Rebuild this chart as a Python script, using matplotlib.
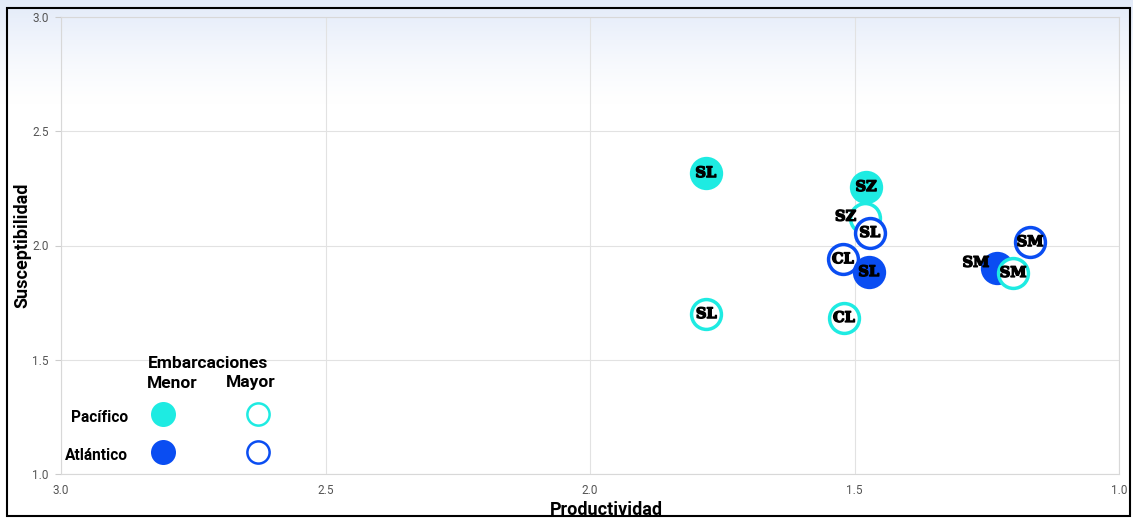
from matplotlib import pyplot as plt
from matplotlib.patches import Rectangle
import matplotlib.patheffects as pe
import numpy as np

# puntos: etiqueta, productividad, susceptibilidad, oceano, tipo de embarcacion
labels  = ['SZ', 'SZ', 'SL', 'CL', 'SL', 'SM', 'SM', 'SM', 'SL', 'SL', 'CL']
prod    = [1.48, 1.478, 1.471, 1.522, 1.473, 1.231, 1.20, 1.168, 1.781, 1.78, 1.52]
suscep  = [2.12, 2.256, 2.055, 1.94, 1.884, 1.90, 1.88, 2.015, 2.317, 1.70, 1.683]
oceano  = ['Pacífico', 'Pacífico', 'Atlántico', 'Atlántico', 'Atlántico', 'Atlántico',
           'Pacífico', 'Atlántico', 'Pacífico', 'Pacífico', 'Pacífico']
tipo    = ['Mayor', 'Menor', 'Mayor', 'Mayor', 'Menor', 'Menor',
           'Mayor', 'Mayor', 'Menor', 'Mayor', 'Mayor']

xticks = [3.0, 2.5, 2.0, 1.5, 1.0]
yticks = [1.0, 1.5, 2.0, 2.5, 3.0]

colors = {'Pacífico': '#1EEBE2', 'Atlántico': '#0A4DF2'}
# desplazamiento de etiquetas solapadas (en puntos)
label_shift = {0: (-14, 1), 5: (-15, 4)}

sans = ['Roboto', 'DejaVu Sans']

fig = plt.figure(figsize=(11.33, 5.18), dpi=100)

# fondo degradado arriba
bg = fig.add_axes([0, 0, 1, 1], zorder=-10)
grad = np.linspace(0, 1, 256).reshape(-1, 1)
top = np.array([0.89, 0.92, 0.975])
img = np.ones((256, 1, 3))
frac = np.clip((grad - 0.80) / 0.20, 0, 1) ** 1.3
img = img * (1 - frac[..., None]) + top * frac[..., None]
bg.imshow(img, aspect='auto', extent=[0, 1, 0, 1], origin='lower')
bg.set_axis_off()
fig.patches.append(Rectangle((7 / 1133, 2 / 518), 1123 / 1133, 508 / 518,
                             transform=fig.transFigure, fill=False,
                             edgecolor='black', linewidth=1.5, zorder=20))

ax = fig.add_axes([61 / 1133, 1 - 474 / 518, 1058 / 1133, 457 / 518])
ax.set_facecolor('none')
ax.set_xlim(3.0, 1.0)
ax.set_ylim(1.0, 3.0)
ax.set_xticks(xticks)
ax.set_yticks(yticks)
ax.set_xticklabels(['%.1f' % v for v in xticks], family=sans, fontsize=8.5, color='#555555')
ax.set_yticklabels(['%.1f' % v for v in yticks], family=sans, fontsize=8.5, color='#555555')
ax.tick_params(axis='x', length=0, pad=7)
ax.tick_params(axis='y', length=4, color='#cccccc', pad=5)
ax.grid(True, color='#e2e2e2', linewidth=0.8)
ax.set_axisbelow(True)
for s in ax.spines.values():
    s.set_color('#d8d8d8')

for i in range(len(labels)):
    c = colors[oceano[i]]
    if tipo[i] == 'Menor':
        ax.plot(prod[i], suscep[i], 'o', markersize=24, markerfacecolor=c,
                markeredgecolor=c, markeredgewidth=0, zorder=3 + i * 0.01)
    else:
        ax.plot(prod[i], suscep[i], 'o', markersize=21.5, markerfacecolor='white',
                markeredgecolor=c, markeredgewidth=2.5, zorder=3 + i * 0.01)

for i in range(len(labels)):
    dx, dy = label_shift.get(i, (0, 0))
    ax.annotate(labels[i], (prod[i], suscep[i]), xytext=(dx, dy), textcoords='offset points',
                ha='center', va='center', family='DejaVu Serif', fontweight='bold',
                fontsize=10.5, color='black', zorder=5,
                path_effects=[pe.withStroke(linewidth=1.0, foreground='black')])

# leyenda
lx = [163, 258]
ly = [414, 452]
for r, oc in enumerate(['Pacífico', 'Atlántico']):
    for k, tp in enumerate(['Menor', 'Mayor']):
        c = colors[oc]
        x = lx[k] / 1133
        y = 1 - ly[r] / 518
        if tp == 'Menor':
            fig.lines.append(plt.Line2D([x], [y], marker='o', markersize=18, markerfacecolor=c,
                                        markeredgewidth=0, transform=fig.transFigure, zorder=6))
        else:
            fig.lines.append(plt.Line2D([x], [y], marker='o', markersize=16, markerfacecolor='white',
                                        markeredgecolor=c, markeredgewidth=1.8,
                                        transform=fig.transFigure, zorder=6))
    fig.text(128 / 1133, 1 - (ly[r] + 3) / 518, oc, ha='right', va='center', family=sans,
             fontweight='bold', fontsize=11.2)

fig.text(208 / 1133, 1 - 364 / 518, 'Embarcaciones', ha='center', va='center', family=sans,
         fontweight='bold', fontsize=12.5)
fig.text(172 / 1133, 1 - 383 / 518, 'Menor', ha='center', va='center', family=sans,
         fontweight='bold', fontsize=12.5)
fig.text(251 / 1133, 1 - 383 / 518, 'Mayor', ha='center', va='center', family=sans,
         fontweight='bold', fontsize=12.5)

fig.text(606 / 1133, 1 - 510 / 518, 'Productividad', ha='center', va='center', family=sans,
         fontweight='bold', fontsize=13)
fig.text(22 / 1133, 1 - 245 / 518, 'Susceptibilidad', ha='center', va='center', rotation=90,
         family=sans, fontweight='bold', fontsize=13)

fig.savefig('out.png', dpi=100)
